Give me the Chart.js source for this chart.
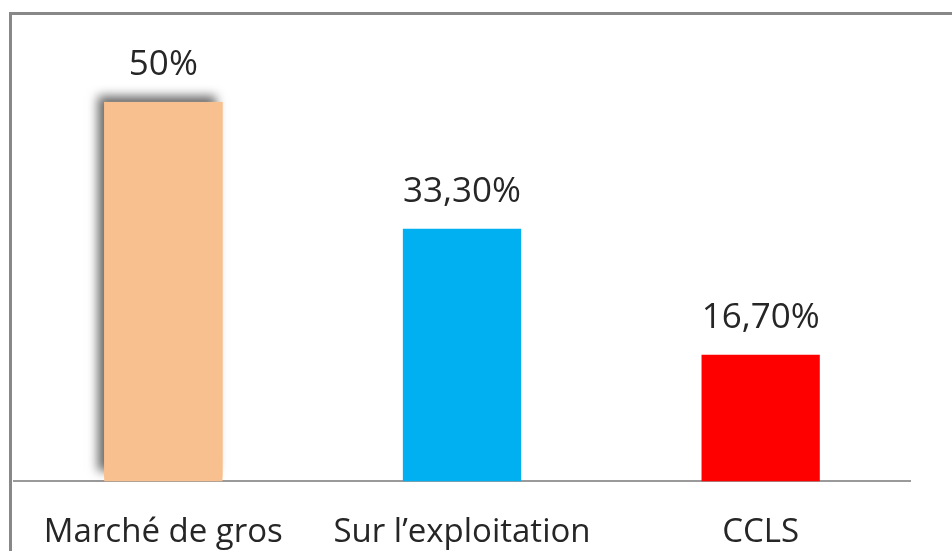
<!DOCTYPE html>
<html>
<head>
<meta charset="utf-8">
<script src="https://cdn.jsdelivr.net/npm/chart.js@4/dist/chart.umd.min.js"></script>
<style>
  html, body { margin: 0; padding: 0; background: #fff; overflow: hidden; }
  #wrap { position: relative; width: 952px; height: 551px; overflow: hidden; background: #fff; }
  #frame { position: absolute; left: 9px; top: 12px; width: 1200px; height: 800px;
           border-left: 3px solid #888; border-top: 3px solid #888; box-sizing: border-box; pointer-events: none; }
  canvas { position: absolute; left: 0; top: 0; }
</style>
</head>
<body>
<div id="wrap">
  <canvas id="c" width="952" height="583"></canvas>
  <div id="frame"></div>
</div>
<script>
const categories = ["Marché de gros", "Sur l\u2019exploitation", "CCLS"];
const values = [50, 33.3, 16.7];
const barColors = ["#F9C08F", "#00B0F0", "#FF0000"];

function fmt(v) {
  return Number.isInteger(v) ? v + "%" : v.toFixed(2).replace(".", ",") + "%";
}

const shadowPlugin = {
  id: "shadowFirst",
  beforeDatasetsDraw(chart) {
    const el = chart.getDatasetMeta(0).data[0];
    if (!el) return;
    const ctx = chart.ctx;
    const p = el.getProps(["x", "y", "width", "base"], true);
    ctx.save();
    ctx.shadowColor = "rgba(0,0,0,0.6)";
    ctx.shadowBlur = 10;
    ctx.shadowOffsetX = -6;
    ctx.shadowOffsetY = -6;
    ctx.fillStyle = barColors[0];
    ctx.fillRect(p.x - p.width / 2, p.y, p.width, p.base - p.y - 4);
    ctx.restore();
  }
};

const labelPlugin = {
  id: "valueLabels",
  afterDatasetsDraw(chart) {
    const ctx = chart.ctx;
    const meta = chart.getDatasetMeta(0);
    ctx.save();
    ctx.font = "35px 'Open Sans'";
    ctx.fillStyle = "#262626";
    ctx.textAlign = "center";
    ctx.textBaseline = "alphabetic";
    meta.data.forEach((el, i) => {
      ctx.fillText(fmt(values[i]), el.x, el.y - 27);
    });
    ctx.restore();
  }
};

new Chart(document.getElementById("c"), {
  type: "bar",
  data: {
    labels: categories,
    datasets: [{
      data: values,
      backgroundColor: barColors,
      borderWidth: 0,
      barPercentage: 0.396,
      categoryPercentage: 1
    }]
  },
  options: {
    responsive: false,
    animation: false,
    events: [],
    layout: { padding: { left: 14, right: 42, top: 26, bottom: 0 } },
    plugins: { legend: { display: false }, tooltip: { enabled: false } },
    scales: {
      y: { display: false, min: 0, max: 60 },
      x: {
        grid: { display: false, drawTicks: false },
        border: { display: true, color: "#9a9a9a", width: 2 },
        ticks: { color: "#262626", font: { family: "'Open Sans'", size: 33 }, padding: 31, maxRotation: 0, autoSkip: false }
      }
    }
  },
  plugins: [shadowPlugin, labelPlugin]
});
</script>
</body>
</html>
